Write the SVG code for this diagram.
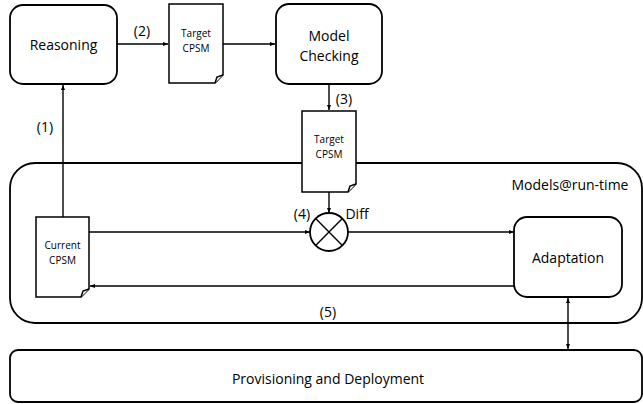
<svg xmlns="http://www.w3.org/2000/svg" width="643" height="404" viewBox="0 0 643 404">
  <style>
    .box { fill: #ffffff; stroke: #000000; stroke-width: 1.8; }
    .doc { fill: #ffffff; stroke: #000000; stroke-width: 1.5; }
    .line { fill: none; stroke: #000000; stroke-width: 1.4; }
    text { font-family: "Open Sans", "Liberation Sans", sans-serif; fill: #000000; text-anchor: middle; }
    .lbl { font-size: 14px; }
    .small { font-size: 10px; }
  </style>
  <defs>
    <marker id="arrow" viewBox="0 0 10 10" refX="10" refY="5" markerWidth="5" markerHeight="5" orient="auto-start-reverse" markerUnits="userSpaceOnUse">
      <path d="M0,1 L10,5 L0,9 z" fill="#000000"/>
    </marker>
  </defs>

  <!-- Models@run-time container -->
  <g id="models-runtime">
    <path class="box" d="M35,163 H617 A25,25 0 0 1 642,188 V298 A25,25 0 0 1 617,323 H35 A25,25 0 0 1 10,298 V188 A25,25 0 0 1 35,163 Z"/>
    <text class="lbl" x="570" y="190">Models@run-time</text>
  </g>

  <!-- Provisioning and Deployment -->
  <g id="provisioning">
    <rect class="box" x="10" y="350" width="632" height="52" rx="8"/>
    <text class="lbl" x="328" y="384">Provisioning and Deployment</text>
  </g>

  <!-- Connectors -->
  <g id="connectors">
    <!-- (1) Current CPSM up to Reasoning -->
    <line class="line" x1="63" y1="217" x2="63" y2="85" marker-end="url(#arrow)"/>
    <text class="lbl" x="45" y="132">(1)</text>
    <!-- (2) Reasoning to Target CPSM -->
    <line class="line" x1="117" y1="44" x2="168" y2="44" marker-end="url(#arrow)"/>
    <text class="lbl" x="142" y="36">(2)</text>
    <!-- Target CPSM to Model Checking -->
    <line class="line" x1="223" y1="44" x2="275" y2="44" marker-end="url(#arrow)"/>
    <!-- (3) Model Checking to Target CPSM -->
    <line class="line" x1="329" y1="84" x2="329" y2="110" marker-end="url(#arrow)"/>
    <text class="lbl" x="344" y="104">(3)</text>
    <!-- Target CPSM to Diff -->
    <line class="line" x1="329" y1="192" x2="329" y2="213" marker-end="url(#arrow)"/>
    <!-- Current CPSM to Diff -->
    <line class="line" x1="89" y1="232" x2="310" y2="232" marker-end="url(#arrow)"/>
    <text class="lbl" x="302" y="219">(4)</text>
    <!-- Diff to Adaptation -->
    <line class="line" x1="348" y1="232" x2="514" y2="232" marker-end="url(#arrow)"/>
    <!-- (5) Adaptation back to Current CPSM -->
    <line class="line" x1="514" y1="286" x2="90" y2="286" marker-end="url(#arrow)"/>
    <text class="lbl" x="328" y="317">(5)</text>
    <!-- Adaptation to/from Provisioning -->
    <line class="line" x1="568" y1="298" x2="568" y2="349" marker-start="url(#arrow)" marker-end="url(#arrow)"/>
  </g>

  <!-- Reasoning -->
  <g id="reasoning">
    <rect class="box" x="10" y="5" width="107" height="79" rx="13"/>
    <text class="lbl" x="63.5" y="50">Reasoning</text>
  </g>

  <!-- Target CPSM (reasoning output) -->
  <g id="target-cpsm-1">
    <path class="doc" d="M169,4 H223 V75 L215,83 H169 Z"/>
    <path class="doc" d="M223,75 L217,77 L215,83"/>
    <text class="small" x="196" y="37">Target</text>
    <text class="small" x="196" y="52">CPSM</text>
  </g>

  <!-- Model Checking -->
  <g id="model-checking">
    <rect class="box" x="276" y="4" width="106" height="80" rx="13"/>
    <text class="lbl" x="329" y="41">Model</text>
    <text class="lbl" x="329" y="61">Checking</text>
  </g>

  <!-- Target CPSM (checked) -->
  <g id="target-cpsm-2">
    <path class="doc" d="M302,111 H356 V184 L348,192 H302 Z"/>
    <path class="doc" d="M356,184 L350,186 L348,192"/>
    <text class="small" x="329" y="143">Target</text>
    <text class="small" x="329" y="158">CPSM</text>
  </g>

  <!-- Diff -->
  <g id="diff">
    <circle class="box" cx="329" cy="232" r="19"/>
    <path class="line" d="M315.6,218.6 L342.4,245.4 M342.4,218.6 L315.6,245.4" stroke-width="1.6"/>
    <text class="lbl" x="357" y="219">Diff</text>
  </g>

  <!-- Current CPSM -->
  <g id="current-cpsm">
    <path class="doc" d="M36,217 H89 V289 L81,297 H36 Z"/>
    <path class="doc" d="M89,289 L83,291 L81,297"/>
    <text class="small" x="62.5" y="249">Current</text>
    <text class="small" x="62.5" y="264">CPSM</text>
  </g>

  <!-- Adaptation -->
  <g id="adaptation">
    <rect class="box" x="514" y="217" width="108" height="80" rx="13"/>
    <text class="lbl" x="568" y="263">Adaptation</text>
  </g>
</svg>
